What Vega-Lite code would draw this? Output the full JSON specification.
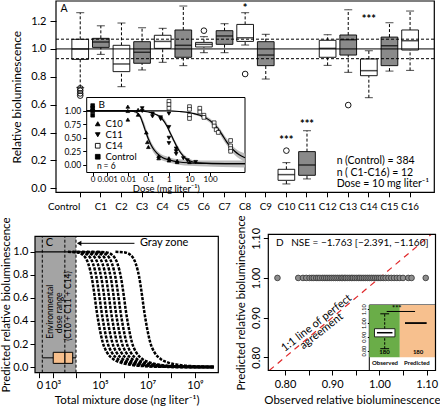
{
"$schema":"https://vega.github.io/schema/vega-lite/v6.json",
"width":440,"height":410,"autosize":{"type":"none"},"padding":0,
"config":{"font":"Lato","view":{"stroke":null},"axis":{"domain":false,"grid":false,"tickColor":"black","labelColor":"black","titleColor":"black","titleFontWeight":"normal","zindex":1},"text":{"color":"black"},"legend":{"labelColor":"black"}},
"datasets":{
"boxA":[
{"cat":"Control","wlo":0.724,"q1":0.925,"med":1.0,"q3":1.069,"whi":1.26},
{"cat":"C1","wlo":0.961,"q1":1.011,"med":1.05,"q3":1.076,"whi":1.166},
{"cat":"C2","wlo":0.729,"q1":0.837,"med":0.892,"q3":1.026,"whi":1.186},
{"cat":"C3","wlo":0.849,"q1":0.897,"med":0.976,"q3":1.052,"whi":1.152},
{"cat":"C4","wlo":0.904,"q1":1.004,"med":1.054,"q3":1.098,"whi":1.148},
{"cat":"C5","wlo":0.88,"q1":0.94,"med":1.026,"q3":1.136,"whi":1.308},
{"cat":"C6","wlo":0.973,"q1":1.014,"med":1.033,"q3":1.047,"whi":1.088},
{"cat":"C7","wlo":0.973,"q1":1.033,"med":1.093,"q3":1.131,"whi":1.181},
{"cat":"C8","wlo":1.028,"q1":1.054,"med":1.08,"q3":1.176,"whi":1.26},
{"cat":"C9","wlo":0.784,"q1":0.88,"med":0.956,"q3":1.052,"whi":1.105},
{"cat":"C10","wlo":0.031,"q1":0.057,"med":0.098,"q3":0.136,"whi":0.184},
{"cat":"C11","wlo":0.067,"q1":0.093,"med":0.167,"q3":0.263,"whi":0.413},
{"cat":"C12","wlo":0.882,"q1":0.94,"med":1.004,"q3":1.062,"whi":1.102},
{"cat":"C13","wlo":0.832,"q1":0.956,"med":1.066,"q3":1.1,"whi":1.281},
{"cat":"C14","wlo":0.65,"q1":0.808,"med":0.844,"q3":0.928,"whi":0.987},
{"cat":"C15","wlo":0.841,"q1":0.88,"med":1.023,"q3":1.085,"whi":1.188},
{"cat":"C16","wlo":0.846,"q1":0.992,"med":1.059,"q3":1.136,"whi":1.272}],
"outA":[{"cat":"Control","v":0.717},{"cat":"Control","v":0.7},{"cat":"Control","v":0.681},{"cat":"Control","v":0.665},{"cat":"C6","v":1.131},{"cat":"C8","v":0.82},{"cat":"C10","v":0.27},{"cat":"C13","v":0.597}],
"starA":[{"cat":"C8","v":1.303,"lab":"*"},{"cat":"C10","v":0.351,"lab":"***"},{"cat":"C11","v":0.466,"lab":"***"},{"cat":"C14","v":1.22,"lab":"***"}],
"curveB":[
{"series":"C10","x":-4.0,"y":1.0},{"series":"C10","x":-2.0,"y":1.0},{"series":"C10","x":-1.6,"y":0.98},{"series":"C10","x":-1.4,"y":0.9},{"series":"C10","x":-1.25,"y":0.75},{"series":"C10","x":-1.1,"y":0.58},{"series":"C10","x":-1.0,"y":0.48},{"series":"C10","x":-0.8,"y":0.32},{"series":"C10","x":-0.6,"y":0.22},{"series":"C10","x":-0.3,"y":0.13},{"series":"C10","x":0.0,"y":0.09},{"series":"C10","x":0.5,"y":0.05},{"series":"C10","x":1.0,"y":0.035},{"series":"C10","x":2.0,"y":0.025},{"series":"C10","x":3.7,"y":0.02},
{"series":"C11","x":-4.0,"y":1.0},{"series":"C11","x":-1.5,"y":1.0},{"series":"C11","x":-1.0,"y":0.98},{"series":"C11","x":-0.6,"y":0.93},{"series":"C11","x":-0.3,"y":0.84},{"series":"C11","x":-0.1,"y":0.72},{"series":"C11","x":0.1,"y":0.56},{"series":"C11","x":0.2,"y":0.48},{"series":"C11","x":0.35,"y":0.36},{"series":"C11","x":0.5,"y":0.26},{"series":"C11","x":0.7,"y":0.16},{"series":"C11","x":0.9,"y":0.09},{"series":"C11","x":1.2,"y":0.05},{"series":"C11","x":1.6,"y":0.03},{"series":"C11","x":2.5,"y":0.02},{"series":"C11","x":3.7,"y":0.02},
{"series":"C14","x":-4.0,"y":1.0},{"series":"C14","x":0.0,"y":1.0},{"series":"C14","x":0.5,"y":0.99},{"series":"C14","x":1.0,"y":0.97},{"series":"C14","x":1.5,"y":0.92},{"series":"C14","x":1.8,"y":0.87},{"series":"C14","x":2.0,"y":0.82},{"series":"C14","x":2.2,"y":0.75},{"series":"C14","x":2.4,"y":0.66},{"series":"C14","x":2.6,"y":0.55},{"series":"C14","x":2.8,"y":0.43},{"series":"C14","x":3.0,"y":0.33},{"series":"C14","x":3.2,"y":0.25},{"series":"C14","x":3.4,"y":0.19},{"series":"C14","x":3.7,"y":0.13}],
"bandB":[
{"series":"C10","x":-1.7,"lo":0.97,"hi":1.0},{"series":"C10","x":-1.4,"lo":0.86,"hi":0.94},{"series":"C10","x":-1.2,"lo":0.64,"hi":0.78},{"series":"C10","x":-1.0,"lo":0.42,"hi":0.55},{"series":"C10","x":-0.8,"lo":0.26,"hi":0.38},{"series":"C10","x":-0.5,"lo":0.12,"hi":0.23},{"series":"C10","x":0.0,"lo":0.04,"hi":0.14},{"series":"C10","x":0.5,"lo":0.0,"hi":0.1},{"series":"C10","x":1.5,"lo":-0.03,"hi":0.08},{"series":"C10","x":3.7,"lo":-0.05,"hi":0.08},
{"series":"C11","x":-0.6,"lo":0.91,"hi":0.95},{"series":"C11","x":-0.2,"lo":0.76,"hi":0.84},{"series":"C11","x":0.2,"lo":0.44,"hi":0.52},{"series":"C11","x":0.6,"lo":0.18,"hi":0.25},{"series":"C11","x":1.0,"lo":0.05,"hi":0.11},{"series":"C11","x":1.6,"lo":0.01,"hi":0.05},
{"series":"C14","x":1.2,"lo":0.93,"hi":0.97},{"series":"C14","x":1.6,"lo":0.88,"hi":0.93},{"series":"C14","x":2.0,"lo":0.78,"hi":0.86},{"series":"C14","x":2.4,"lo":0.61,"hi":0.71},{"series":"C14","x":2.8,"lo":0.37,"hi":0.49},{"series":"C14","x":3.2,"lo":0.18,"hi":0.31},{"series":"C14","x":3.7,"lo":0.05,"hi":0.21}],
"ptsB":[
{"series":"Control","x":-3.71,"y":1.1},{"series":"Control","x":-3.71,"y":1.05},{"series":"Control","x":-3.71,"y":1.0},{"series":"Control","x":-3.71,"y":0.92},
{"series":"C10","x":-2.0,"y":1.08},{"series":"C10","x":-2.0,"y":1.0},{"series":"C10","x":-2.0,"y":0.84},{"series":"C10","x":-1.5,"y":1.02},{"series":"C10","x":-1.5,"y":0.93},{"series":"C10","x":-1.1,"y":0.6},{"series":"C10","x":-1.05,"y":0.42},{"series":"C10","x":-1.0,"y":0.33},{"series":"C10","x":-0.5,"y":0.16},{"series":"C10","x":-0.5,"y":0.12},{"series":"C10","x":0.0,"y":0.12},{"series":"C10","x":0.0,"y":0.08},{"series":"C10","x":0.4,"y":0.07},{"series":"C10","x":0.4,"y":0.05},{"series":"C10","x":1.0,"y":0.05},
{"series":"C11","x":-1.3,"y":1.05},{"series":"C11","x":-1.3,"y":1.0},{"series":"C11","x":-0.8,"y":0.95},{"series":"C11","x":-0.8,"y":0.9},{"series":"C11","x":-0.4,"y":0.88},{"series":"C11","x":-0.4,"y":0.85},{"series":"C11","x":0.0,"y":0.95},{"series":"C11","x":0.0,"y":0.7},{"series":"C11","x":0.0,"y":0.5},{"series":"C11","x":0.0,"y":0.4},{"series":"C11","x":0.35,"y":0.3},{"series":"C11","x":0.35,"y":0.25},{"series":"C11","x":0.35,"y":0.2},{"series":"C11","x":0.7,"y":0.12},{"series":"C11","x":0.9,"y":0.08},{"series":"C11","x":1.3,"y":0.05},
{"series":"C14","x":0.0,"y":1.18},{"series":"C14","x":0.0,"y":1.12},{"series":"C14","x":0.0,"y":1.05},{"series":"C14","x":1.0,"y":1.08},{"series":"C14","x":1.0,"y":1.03},{"series":"C14","x":1.0,"y":0.92},{"series":"C14","x":1.0,"y":0.86},{"series":"C14","x":1.5,"y":1.05},{"series":"C14","x":1.5,"y":0.98},{"series":"C14","x":1.7,"y":0.92},{"series":"C14","x":1.7,"y":0.88},{"series":"C14","x":2.2,"y":0.78},{"series":"C14","x":2.2,"y":0.72},{"series":"C14","x":2.3,"y":0.65},{"series":"C14","x":2.4,"y":0.6},{"series":"C14","x":3.0,"y":0.45},{"series":"C14","x":3.0,"y":0.35},{"series":"C14","x":3.0,"y":0.3},{"series":"C14","x":3.0,"y":0.25}],
"curveC":[
{"c":1,"x":3.65,"y":1.0},{"c":1,"x":4.05,"y":0.995},{"c":1,"x":4.3,"y":0.97},{"c":1,"x":4.5,"y":0.9},{"c":1,"x":4.65,"y":0.78},{"c":1,"x":4.75,"y":0.65},{"c":1,"x":4.85,"y":0.5},{"c":1,"x":4.97,"y":0.35},{"c":1,"x":5.12,"y":0.21},{"c":1,"x":5.3,"y":0.125},{"c":1,"x":5.55,"y":0.07},{"c":1,"x":5.85,"y":0.04},{"c":1,"x":6.35,"y":0.018},{"c":1,"x":7.05,"y":0.006},{"c":1,"x":7.85,"y":0.0015},{"c":1,"x":9.8,"y":0.0},
{"c":2,"x":3.85,"y":1.0},{"c":2,"x":4.25,"y":0.995},{"c":2,"x":4.5,"y":0.97},{"c":2,"x":4.7,"y":0.9},{"c":2,"x":4.85,"y":0.78},{"c":2,"x":4.95,"y":0.65},{"c":2,"x":5.05,"y":0.5},{"c":2,"x":5.17,"y":0.35},{"c":2,"x":5.32,"y":0.21},{"c":2,"x":5.5,"y":0.125},{"c":2,"x":5.75,"y":0.07},{"c":2,"x":6.05,"y":0.04},{"c":2,"x":6.55,"y":0.018},{"c":2,"x":7.25,"y":0.006},{"c":2,"x":8.05,"y":0.0015},{"c":2,"x":9.8,"y":0.0},
{"c":3,"x":4.05,"y":1.0},{"c":3,"x":4.45,"y":0.995},{"c":3,"x":4.7,"y":0.97},{"c":3,"x":4.9,"y":0.9},{"c":3,"x":5.05,"y":0.78},{"c":3,"x":5.15,"y":0.65},{"c":3,"x":5.25,"y":0.5},{"c":3,"x":5.37,"y":0.35},{"c":3,"x":5.52,"y":0.21},{"c":3,"x":5.7,"y":0.125},{"c":3,"x":5.95,"y":0.07},{"c":3,"x":6.25,"y":0.04},{"c":3,"x":6.75,"y":0.018},{"c":3,"x":7.45,"y":0.006},{"c":3,"x":8.25,"y":0.0015},{"c":3,"x":9.8,"y":0.0},
{"c":4,"x":4.25,"y":1.0},{"c":4,"x":4.65,"y":0.995},{"c":4,"x":4.9,"y":0.97},{"c":4,"x":5.1,"y":0.9},{"c":4,"x":5.25,"y":0.78},{"c":4,"x":5.35,"y":0.65},{"c":4,"x":5.45,"y":0.5},{"c":4,"x":5.57,"y":0.35},{"c":4,"x":5.72,"y":0.21},{"c":4,"x":5.9,"y":0.125},{"c":4,"x":6.15,"y":0.07},{"c":4,"x":6.45,"y":0.04},{"c":4,"x":6.95,"y":0.018},{"c":4,"x":7.65,"y":0.006},{"c":4,"x":8.45,"y":0.0015},{"c":4,"x":9.8,"y":0.0},
{"c":5,"x":4.45,"y":1.0},{"c":5,"x":4.85,"y":0.995},{"c":5,"x":5.1,"y":0.97},{"c":5,"x":5.3,"y":0.9},{"c":5,"x":5.45,"y":0.78},{"c":5,"x":5.55,"y":0.65},{"c":5,"x":5.65,"y":0.5},{"c":5,"x":5.77,"y":0.35},{"c":5,"x":5.92,"y":0.21},{"c":5,"x":6.1,"y":0.125},{"c":5,"x":6.35,"y":0.07},{"c":5,"x":6.65,"y":0.04},{"c":5,"x":7.15,"y":0.018},{"c":5,"x":7.85,"y":0.006},{"c":5,"x":8.65,"y":0.0015},{"c":5,"x":9.8,"y":0.0},
{"c":6,"x":4.65,"y":1.0},{"c":6,"x":5.05,"y":0.995},{"c":6,"x":5.3,"y":0.97},{"c":6,"x":5.5,"y":0.9},{"c":6,"x":5.65,"y":0.78},{"c":6,"x":5.75,"y":0.65},{"c":6,"x":5.85,"y":0.5},{"c":6,"x":5.97,"y":0.35},{"c":6,"x":6.12,"y":0.21},{"c":6,"x":6.3,"y":0.125},{"c":6,"x":6.55,"y":0.07},{"c":6,"x":6.85,"y":0.04},{"c":6,"x":7.35,"y":0.018},{"c":6,"x":8.05,"y":0.006},{"c":6,"x":8.85,"y":0.0015},{"c":6,"x":9.8,"y":0.0},
{"c":7,"x":4.88,"y":1.0},{"c":7,"x":5.28,"y":0.995},{"c":7,"x":5.53,"y":0.97},{"c":7,"x":5.73,"y":0.9},{"c":7,"x":5.88,"y":0.78},{"c":7,"x":5.98,"y":0.65},{"c":7,"x":6.08,"y":0.5},{"c":7,"x":6.2,"y":0.35},{"c":7,"x":6.35,"y":0.21},{"c":7,"x":6.53,"y":0.125},{"c":7,"x":6.78,"y":0.07},{"c":7,"x":7.08,"y":0.04},{"c":7,"x":7.58,"y":0.018},{"c":7,"x":8.28,"y":0.006},{"c":7,"x":9.08,"y":0.0015},{"c":7,"x":9.8,"y":0.0},
{"c":8,"x":5.65,"y":1.0},{"c":8,"x":6.05,"y":0.995},{"c":8,"x":6.3,"y":0.97},{"c":8,"x":6.5,"y":0.9},{"c":8,"x":6.65,"y":0.78},{"c":8,"x":6.75,"y":0.65},{"c":8,"x":6.85,"y":0.5},{"c":8,"x":6.97,"y":0.35},{"c":8,"x":7.12,"y":0.21},{"c":8,"x":7.3,"y":0.125},{"c":8,"x":7.55,"y":0.07},{"c":8,"x":7.85,"y":0.04},{"c":8,"x":8.35,"y":0.018},{"c":8,"x":9.05,"y":0.006},{"c":8,"x":9.8,"y":0.0}],
"envC":[{"min":2.57,"q1":3.03,"med":3.52,"q3":3.85,"max":3.99}],
"ptsD":[{"obs":0.784},{"obs":0.828},{"obs":0.838},{"obs":0.845},{"obs":0.852},{"obs":0.857},{"obs":0.861},{"obs":0.866},{"obs":0.87},{"obs":0.874},{"obs":0.879},{"obs":0.883},{"obs":0.887},{"obs":0.891},{"obs":0.895},{"obs":0.899},{"obs":0.903},{"obs":0.907},{"obs":0.911},{"obs":0.915},{"obs":0.919},{"obs":0.922},{"obs":0.926},{"obs":0.929},{"obs":0.933},{"obs":0.937},{"obs":0.941},{"obs":0.944},{"obs":0.948},{"obs":0.952},{"obs":0.956},{"obs":0.959},{"obs":0.963},{"obs":0.967},{"obs":0.971},{"obs":0.975},{"obs":0.979},{"obs":0.983},{"obs":0.987},{"obs":0.991},{"obs":0.995},{"obs":0.999},{"obs":1.003},{"obs":1.008},{"obs":1.013},{"obs":1.019},{"obs":1.025},{"obs":1.031},{"obs":1.037},{"obs":1.043},{"obs":1.05},{"obs":1.061},{"obs":1.068},{"obs":1.098}],
"boxDi":[{"min":0.814,"q1":0.9,"med":0.93,"q3":0.959,"max":1.067}]
},
"layer":[
{"data":{"name":"boxA"},"mark":{"type":"rule","strokeDash":[3,2],"color":"black","strokeWidth":1},
 "encoding":{"x":{"field":"cat","type":"nominal","sort":null,"scale":{"type":"band","domain":["Control","C1","C2","C3","C4","C5","C6","C7","C8","C9","C10","C11","C12","C13","C14","C15","C16"],"range":[56,434.3],"paddingInner":0.19,"paddingOuter":0.77},"axis":null},
 "y":{"field":"q3","type":"quantitative","scale":{"domain":[-0.029,1.344],"range":[192.3,1],"nice":false,"zero":false},"axis":null},"y2":{"field":"whi"}}},
{"data":{"name":"boxA"},"mark":{"type":"rule","strokeDash":[3,2],"color":"black","strokeWidth":1},
 "encoding":{"x":{"field":"cat","type":"nominal","sort":null,"scale":{"type":"band","domain":["Control","C1","C2","C3","C4","C5","C6","C7","C8","C9","C10","C11","C12","C13","C14","C15","C16"],"range":[56,434.3],"paddingInner":0.19,"paddingOuter":0.77},"axis":null},
 "y":{"field":"wlo","type":"quantitative","scale":{"domain":[-0.029,1.344],"range":[192.3,1],"nice":false,"zero":false},"axis":null},"y2":{"field":"q1"}}},
{"data":{"name":"boxA"},"mark":{"type":"tick","orient":"horizontal","size":8,"thickness":1,"color":"black"},
 "encoding":{"x":{"field":"cat","type":"nominal","sort":null,"scale":{"type":"band","domain":["Control","C1","C2","C3","C4","C5","C6","C7","C8","C9","C10","C11","C12","C13","C14","C15","C16"],"range":[56,434.3],"paddingInner":0.19,"paddingOuter":0.77},"axis":null},
 "y":{"field":"whi","type":"quantitative","scale":{"domain":[-0.029,1.344],"range":[192.3,1],"nice":false,"zero":false},"axis":null}}},
{"data":{"name":"boxA"},"mark":{"type":"tick","orient":"horizontal","size":8,"thickness":1,"color":"black"},
 "encoding":{"x":{"field":"cat","type":"nominal","sort":null,"scale":{"type":"band","domain":["Control","C1","C2","C3","C4","C5","C6","C7","C8","C9","C10","C11","C12","C13","C14","C15","C16"],"range":[56,434.3],"paddingInner":0.19,"paddingOuter":0.77},"axis":null},
 "y":{"field":"wlo","type":"quantitative","scale":{"domain":[-0.029,1.344],"range":[192.3,1],"nice":false,"zero":false},"axis":null}}},
{"data":{"name":"boxA"},"mark":{"type":"bar","stroke":"black","strokeWidth":0.9},
 "encoding":{"x":{"field":"cat","type":"nominal","sort":null,"scale":{"type":"band","domain":["Control","C1","C2","C3","C4","C5","C6","C7","C8","C9","C10","C11","C12","C13","C14","C15","C16"],"range":[56,434.3],"paddingInner":0.19,"paddingOuter":0.77},
   "axis":{"orient":"bottom","offset":-217.7,"title":null,"labelAngle":0,"labelFontSize":9.8,"labelPadding":5,"tickSize":4.5,"labelOverlap":false,"labelBound":false,"labelAlign":{"condition":{"test":"datum.value == 'Control'","value":"right"},"value":"center"}}},
 "y":{"field":"q1","type":"quantitative","scale":{"domain":[-0.029,1.344],"range":[192.3,1],"nice":false,"zero":false},
   "axis":{"orient":"left","offset":-56,"values":[0,0.2,0.4,0.6,0.8,1,1.2],"format":".1f","title":"Relative bioluminescence","titleFontSize":12,"labelFontSize":11,"tickSize":6,"labelPadding":4,"titlePadding":7}},
 "y2":{"field":"q3"},
 "fill":{"field":"cat","type":"nominal","scale":{"domain":["Control","C1","C2","C3","C4","C5","C6","C7","C8","C9","C10","C11","C12","C13","C14","C15","C16"],"range":["white","#8a8a8a","white","#8a8a8a","white","#8a8a8a","white","#8a8a8a","white","#8a8a8a","white","#8a8a8a","white","#8a8a8a","white","#8a8a8a","white"]},"legend":null}}},
{"data":{"name":"boxA"},"mark":{"type":"tick","orient":"horizontal","size":16.7,"thickness":1.5,"color":"black"},
 "encoding":{"x":{"field":"cat","type":"nominal","sort":null,"scale":{"type":"band","domain":["Control","C1","C2","C3","C4","C5","C6","C7","C8","C9","C10","C11","C12","C13","C14","C15","C16"],"range":[56,434.3],"paddingInner":0.19,"paddingOuter":0.77},"axis":null},
 "y":{"field":"med","type":"quantitative","scale":{"domain":[-0.029,1.344],"range":[192.3,1],"nice":false,"zero":false},"axis":null}}},
{"data":{"name":"outA"},"mark":{"type":"point","shape":"circle","filled":false,"color":"black","size":32,"strokeWidth":0.9,"opacity":1},
 "encoding":{"x":{"field":"cat","type":"nominal","sort":null,"scale":{"type":"band","domain":["Control","C1","C2","C3","C4","C5","C6","C7","C8","C9","C10","C11","C12","C13","C14","C15","C16"],"range":[56,434.3],"paddingInner":0.19,"paddingOuter":0.77},"axis":null},
 "y":{"field":"v","type":"quantitative","scale":{"domain":[-0.029,1.344],"range":[192.3,1],"nice":false,"zero":false},"axis":null}}},
{"data":{"name":"starA"},"mark":{"type":"text","fontSize":11,"fontWeight":"bold","baseline":"middle","dy":2},
 "encoding":{"x":{"field":"cat","type":"nominal","sort":null,"scale":{"type":"band","domain":["Control","C1","C2","C3","C4","C5","C6","C7","C8","C9","C10","C11","C12","C13","C14","C15","C16"],"range":[56,434.3],"paddingInner":0.19,"paddingOuter":0.77},"axis":null},
 "y":{"field":"v","type":"quantitative","scale":{"domain":[-0.029,1.344],"range":[192.3,1],"nice":false,"zero":false},"axis":null},"text":{"field":"lab"}}},
{"data":{"values":[{}]},"mark":{"type":"rule","color":"black","strokeWidth":1},
 "encoding":{"x":{"datum":0,"type":"quantitative","scale":{"domain":[0,1],"range":[56,434.3],"nice":false,"zero":false},"axis":null},"x2":{"datum":1},
 "y":{"datum":1.0,"type":"quantitative","scale":{"domain":[-0.029,1.344],"range":[192.3,1],"nice":false,"zero":false},"axis":null}}},
{"data":{"values":[{}]},"mark":{"type":"rule","color":"black","strokeWidth":1,"strokeDash":[3,2]},
 "encoding":{"x":{"datum":0,"type":"quantitative","scale":{"domain":[0,1],"range":[56,434.3],"nice":false,"zero":false},"axis":null},"x2":{"datum":1},
 "y":{"datum":1.07,"type":"quantitative","scale":{"domain":[-0.029,1.344],"range":[192.3,1],"nice":false,"zero":false},"axis":null}}},
{"data":{"values":[{}]},"mark":{"type":"rule","color":"black","strokeWidth":1,"strokeDash":[3,2]},
 "encoding":{"x":{"datum":0,"type":"quantitative","scale":{"domain":[0,1],"range":[56,434.3],"nice":false,"zero":false},"axis":null},"x2":{"datum":1},
 "y":{"datum":0.93,"type":"quantitative","scale":{"domain":[-0.029,1.344],"range":[192.3,1],"nice":false,"zero":false},"axis":null}}},
{"data":{"values":[{}]},"mark":{"type":"rect","filled":false,"color":"black","strokeWidth":1.2},
 "encoding":{"x":{"datum":0,"type":"quantitative","scale":{"domain":[0,1],"range":[56,434.3],"nice":false,"zero":false},"axis":null},"x2":{"datum":1},
 "y":{"datum":-0.029,"type":"quantitative","scale":{"domain":[-0.029,1.344],"range":[192.3,1],"nice":false,"zero":false},"axis":null},"y2":{"datum":1.344}}},
{"data":{"values":[{"t":"A","x":0.012,"y":1.29,"w":"bold","s":"normal"},{"t":"n","x":0.742,"y":0.196,"w":"normal","s":"italic"},{"t":"(Control) = 384","x":0.764,"y":0.196,"w":"normal","s":"normal"},{"t":"n","x":0.742,"y":0.112,"w":"normal","s":"italic"},{"t":"( C1-C16) = 12","x":0.764,"y":0.112,"w":"normal","s":"normal"},{"t":"Dose = 10 mg liter⁻¹","x":0.742,"y":0.031,"w":"normal","s":"normal"}]},
 "mark":{"type":"text","fontSize":10.5,"align":"left","baseline":"middle"},
 "encoding":{"x":{"field":"x","type":"quantitative","scale":{"domain":[0,1],"range":[56,434.3],"nice":false,"zero":false},"axis":null},
 "y":{"field":"y","type":"quantitative","scale":{"domain":[-0.029,1.344],"range":[192.3,1],"nice":false,"zero":false},"axis":null},
 "text":{"field":"t"},"fontWeight":{"field":"w","type":"nominal","scale":null},"fontStyle":{"field":"s","type":"nominal","scale":null}}},

{"data":{"values":[{}]},"mark":{"type":"rect","fill":"white","stroke":"black","strokeWidth":1},
 "encoding":{"x":{"datum":-4.0,"type":"quantitative","scale":{"domain":[-4.0,3.7],"range":[86.7,245],"nice":false,"zero":false},"axis":null},"x2":{"datum":3.7},
 "y":{"datum":-0.145,"type":"quantitative","scale":{"domain":[-0.145,1.25],"range":[172.5,97.5],"nice":false,"zero":false},"axis":null},"y2":{"datum":1.25}}},
{"data":{"name":"bandB"},"mark":{"type":"area","color":"#b0b0b0","opacity":0.85,"interpolate":"monotone"},
 "encoding":{"x":{"field":"x","type":"quantitative","scale":{"domain":[-4.0,3.7],"range":[86.7,245],"nice":false,"zero":false},"axis":null},
 "y":{"field":"lo","type":"quantitative","scale":{"domain":[-0.145,1.25],"range":[172.5,97.5],"nice":false,"zero":false},"axis":null},"y2":{"field":"hi"},"detail":{"field":"series"}}},
{"data":{"name":"curveB"},"mark":{"type":"line","color":"black","strokeWidth":1.2,"interpolate":"monotone"},
 "encoding":{"x":{"field":"x","type":"quantitative","scale":{"domain":[-4.0,3.7],"range":[86.7,245],"nice":false,"zero":false},"axis":null},
 "y":{"field":"y","type":"quantitative","scale":{"domain":[-0.145,1.25],"range":[172.5,97.5],"nice":false,"zero":false},"axis":null},"detail":{"field":"series"}}},
{"data":{"name":"ptsB"},"mark":{"type":"point","size":14,"strokeWidth":0.7,"opacity":1},
 "encoding":{"x":{"field":"x","type":"quantitative","scale":{"domain":[-4.0,3.7],"range":[86.7,245],"nice":false,"zero":false},
   "axis":{"orient":"bottom","offset":-237.5,"values":[-3.71,-3,-2,-1,0,1,2],"labelExpr":"datum.value < -3.5 ? '0' : datum.value == -3 ? '0.001' : datum.value == -2 ? '0.01' : datum.value == -1 ? '0.1' : datum.value == 0 ? '1' : datum.value == 1 ? '10' : '100'","title":"Dose (mg liter⁻¹)","labelFontSize":8,"titleFontSize":9.5,"tickSize":3,"labelPadding":0,"titlePadding":0,"labelOverlap":false,"labelFlush":false}},
 "y":{"field":"y","type":"quantitative","scale":{"domain":[-0.145,1.25],"range":[172.5,97.5],"nice":false,"zero":false},
   "axis":{"orient":"left","offset":-86.7,"values":[0,0.25,0.5,0.75,1],"format":".2f","title":null,"labelFontSize":8.5,"tickSize":4,"labelPadding":2}},
 "shape":{"field":"series","type":"nominal","scale":{"domain":["C10","C11","C14","Control"],"range":["triangle-up","triangle-down","square","square"]},
   "legend":{"orient":"none","legendX":93,"legendY":119,"title":null,"labelFontSize":9.5,"symbolSize":22,"rowPadding":0,"symbolStrokeColor":"black","symbolStrokeWidth":0.9,"labelOffset":3,"padding":0}},
 "fill":{"field":"series","type":"nominal","scale":{"domain":["C10","C11","C14","Control"],"range":["black","black","white","black"]},
   "legend":{"orient":"none","legendX":93,"legendY":119,"title":null,"labelFontSize":9.5,"symbolSize":22,"rowPadding":0,"symbolStrokeColor":"black","symbolStrokeWidth":0.9,"labelOffset":3,"padding":0}},
 "stroke":{"field":"series","type":"nominal","scale":{"domain":["C10","C11","C14","Control"],"range":["black","black","black","black"]},
   "legend":{"orient":"none","legendX":93,"legendY":119,"title":null,"labelFontSize":9.5,"symbolSize":22,"rowPadding":0,"symbolStrokeColor":"black","symbolStrokeWidth":0.9,"labelOffset":3,"padding":0}}}},
{"data":{"values":[{"t":"B","x":-3.42,"y":1.11,"w":"bold","s":"normal","f":10},{"t":"n","x":-3.5,"y":-0.02,"w":"normal","s":"italic","f":8.5},{"t":"= 6","x":-3.18,"y":-0.02,"w":"normal","s":"normal","f":8.5}]},
 "mark":{"type":"text","align":"left","baseline":"middle"},
 "encoding":{"x":{"field":"x","type":"quantitative","scale":{"domain":[-4.0,3.7],"range":[86.7,245],"nice":false,"zero":false},"axis":null},
 "y":{"field":"y","type":"quantitative","scale":{"domain":[-0.145,1.25],"range":[172.5,97.5],"nice":false,"zero":false},"axis":null},
 "text":{"field":"t"},"fontWeight":{"field":"w","type":"nominal","scale":null},"fontStyle":{"field":"s","type":"nominal","scale":null},"size":{"field":"f","type":"quantitative","scale":null}}},

{"data":{"values":[{}]},"mark":{"type":"rect","color":"#a4a4a4"},
 "encoding":{"x":{"datum":2.263,"type":"quantitative","scale":{"domain":[2.263,9.98],"range":[35,218.3],"nice":false,"zero":false},"axis":null},"x2":{"datum":3.99},
 "y":{"datum":-0.049,"type":"quantitative","scale":{"domain":[-0.049,1.135],"range":[372.7,236.3],"nice":false,"zero":false},"axis":null},"y2":{"datum":1.135}}},
{"data":{"name":"envC"},"mark":{"type":"rule","color":"black","strokeWidth":1,"strokeDash":[3,2]},
 "encoding":{"x":{"field":"min","type":"quantitative","scale":{"domain":[2.263,9.98],"range":[35,218.3],"nice":false,"zero":false},"axis":null},
 "y":{"datum":-0.049,"type":"quantitative","scale":{"domain":[-0.049,1.135],"range":[372.7,236.3],"nice":false,"zero":false},"axis":null},"y2":{"datum":1.135}}},
{"data":{"name":"envC"},"mark":{"type":"rule","color":"black","strokeWidth":1,"strokeDash":[3,2]},
 "encoding":{"x":{"field":"med","type":"quantitative","scale":{"domain":[2.263,9.98],"range":[35,218.3],"nice":false,"zero":false},"axis":null},
 "y":{"datum":-0.049,"type":"quantitative","scale":{"domain":[-0.049,1.135],"range":[372.7,236.3],"nice":false,"zero":false},"axis":null},"y2":{"datum":1.135}}},
{"data":{"name":"envC"},"mark":{"type":"rule","color":"black","strokeWidth":1,"strokeDash":[3,2]},
 "encoding":{"x":{"field":"max","type":"quantitative","scale":{"domain":[2.263,9.98],"range":[35,218.3],"nice":false,"zero":false},"axis":null},
 "y":{"datum":-0.049,"type":"quantitative","scale":{"domain":[-0.049,1.135],"range":[372.7,236.3],"nice":false,"zero":false},"axis":null},"y2":{"datum":1.135}}},
{"data":{"name":"curveC"},"mark":{"type":"line","color":"black","strokeWidth":2.5,"strokeDash":[3,1.3],"interpolate":"monotone"},
 "encoding":{"x":{"field":"x","type":"quantitative","scale":{"domain":[2.263,9.98],"range":[35,218.3],"nice":false,"zero":false},
   "axis":{"orient":"bottom","offset":-37.3,"values":[2.45,3,4,5,6,7,8,9],"labelExpr":"datum.value < 2.9 ? '0' : datum.value == 3 ? '10³' : datum.value == 5 ? '10⁵' : datum.value == 7 ? '10⁷' : datum.value == 9 ? '10⁹' : ''","title":"Total mixture dose (ng liter⁻¹)","labelFontSize":11,"titleFontSize":11.5,"tickSize":5,"labelPadding":2,"titlePadding":4,"labelFlush":false,"labelOverlap":false}},
 "y":{"field":"y","type":"quantitative","scale":{"domain":[-0.049,1.135],"range":[372.7,236.3],"nice":false,"zero":false},
   "axis":{"orient":"left","offset":-35,"values":[0,0.2,0.4,0.6,0.8,1],"format":".1f","title":"Predicted relative bioluminescence","labelFontSize":11,"titleFontSize":11.5,"tickSize":5,"labelPadding":2,"titlePadding":1}},
 "detail":{"field":"c"}}},
{"data":{"values":[{}]},"mark":{"type":"rule","color":"black","strokeWidth":1.3},
 "encoding":{"x":{"datum":2.263,"type":"quantitative","scale":{"domain":[2.263,9.98],"range":[35,218.3],"nice":false,"zero":false},"axis":null},"x2":{"datum":4.6},
 "y":{"datum":1.0,"type":"quantitative","scale":{"domain":[-0.049,1.135],"range":[372.7,236.3],"nice":false,"zero":false},"axis":null}}},
{"data":{"name":"envC"},"mark":{"type":"rule","color":"black","strokeWidth":1},
 "encoding":{"x":{"field":"min","type":"quantitative","scale":{"domain":[2.263,9.98],"range":[35,218.3],"nice":false,"zero":false},"axis":null},"x2":{"field":"max"},
 "y":{"datum":0.08,"type":"quantitative","scale":{"domain":[-0.049,1.135],"range":[372.7,236.3],"nice":false,"zero":false},"axis":null}}},
{"data":{"name":"envC"},"mark":{"type":"rect","fill":"#f7bf8c","stroke":"black","strokeWidth":1},
 "encoding":{"x":{"field":"q1","type":"quantitative","scale":{"domain":[2.263,9.98],"range":[35,218.3],"nice":false,"zero":false},"axis":null},"x2":{"field":"q3"},
 "y":{"datum":0.032,"type":"quantitative","scale":{"domain":[-0.049,1.135],"range":[372.7,236.3],"nice":false,"zero":false},"axis":null},"y2":{"datum":0.128}}},
{"data":{"name":"envC"},"mark":{"type":"rule","color":"black","strokeWidth":1.3},
 "encoding":{"x":{"field":"med","type":"quantitative","scale":{"domain":[2.263,9.98],"range":[35,218.3],"nice":false,"zero":false},"axis":null},
 "y":{"datum":0.032,"type":"quantitative","scale":{"domain":[-0.049,1.135],"range":[372.7,236.3],"nice":false,"zero":false},"axis":null},"y2":{"datum":0.128}}},
{"data":{"values":[{"t":"Environmental","x":2.895,"y":0.48},{"t":"dose range","x":3.27,"y":0.47},{"t":"(C10 + C11 + C14)","x":3.665,"y":0.53}]},
 "mark":{"type":"text","fontSize":8.5,"angle":270,"align":"center","baseline":"middle"},
 "encoding":{"x":{"field":"x","type":"quantitative","scale":{"domain":[2.263,9.98],"range":[35,218.3],"nice":false,"zero":false},"axis":null},
 "y":{"field":"y","type":"quantitative","scale":{"domain":[-0.049,1.135],"range":[372.7,236.3],"nice":false,"zero":false},"axis":null},"text":{"field":"t"}}},
{"data":{"values":[{"t":"C","x":2.72,"y":1.074,"w":"bold"},{"t":"Gray zone","x":6.68,"y":1.074,"w":"normal"}]},
 "mark":{"type":"text","fontSize":11,"align":"left","baseline":"middle"},
 "encoding":{"x":{"field":"x","type":"quantitative","scale":{"domain":[2.263,9.98],"range":[35,218.3],"nice":false,"zero":false},"axis":null},
 "y":{"field":"y","type":"quantitative","scale":{"domain":[-0.049,1.135],"range":[372.7,236.3],"nice":false,"zero":false},"axis":null},"text":{"field":"t"},"fontWeight":{"field":"w","type":"nominal","scale":null}}},
{"data":{"values":[{}]},"mark":{"type":"rule","color":"black","strokeWidth":1},
 "encoding":{"x":{"datum":4.1,"type":"quantitative","scale":{"domain":[2.263,9.98],"range":[35,218.3],"nice":false,"zero":false},"axis":null},"x2":{"datum":6.45},
 "y":{"datum":1.074,"type":"quantitative","scale":{"domain":[-0.049,1.135],"range":[372.7,236.3],"nice":false,"zero":false},"axis":null}}},
{"data":{"values":[{}]},"mark":{"type":"point","shape":"triangle-left","filled":true,"color":"black","size":28,"opacity":1},
 "encoding":{"x":{"datum":4.12,"type":"quantitative","scale":{"domain":[2.263,9.98],"range":[35,218.3],"nice":false,"zero":false},"axis":null},
 "y":{"datum":1.074,"type":"quantitative","scale":{"domain":[-0.049,1.135],"range":[372.7,236.3],"nice":false,"zero":false},"axis":null}}},
{"data":{"values":[{}]},"mark":{"type":"rect","filled":false,"color":"black","strokeWidth":1.2},
 "encoding":{"x":{"datum":2.263,"type":"quantitative","scale":{"domain":[2.263,9.98],"range":[35,218.3],"nice":false,"zero":false},"axis":null},"x2":{"datum":9.98},
 "y":{"datum":-0.049,"type":"quantitative","scale":{"domain":[-0.049,1.135],"range":[372.7,236.3],"nice":false,"zero":false},"axis":null},"y2":{"datum":1.135}}},

{"data":{"values":[{}]},"mark":{"type":"rule","color":"#e0282a","strokeWidth":1.2,"strokeDash":[6,5]},
 "encoding":{"x":{"datum":0.7666,"type":"quantitative","scale":{"domain":[0.7646,1.1187],"range":[268.3,435.5],"nice":false,"zero":false},"axis":null},"x2":{"datum":1.11},
 "y":{"datum":0.7666,"type":"quantitative","scale":{"domain":[0.7666,1.11],"range":[370.5,234.3],"nice":false,"zero":false},"axis":null},"y2":{"datum":1.11}}},
{"data":{"name":"ptsD"},"mark":{"type":"point","shape":"circle","filled":true,"fill":"#8e8e8e","stroke":"#333333","strokeWidth":0.8,"size":32,"opacity":1},
 "encoding":{"x":{"field":"obs","type":"quantitative","scale":{"domain":[0.7646,1.1187],"range":[268.3,435.5],"nice":false,"zero":false},
   "axis":{"orient":"bottom","offset":-39.5,"values":[0.8,0.85,0.9,0.95,1,1.05,1.1],"labelExpr":"indexof(['0.80','0.90','1.00','1.10'], format(datum.value,'.2f')) >= 0 ? format(datum.value,'.2f') : ''","title":"Observed relative bioluminescence","labelFontSize":11,"titleFontSize":11.5,"tickSize":4.5,"labelPadding":3,"titlePadding":5,"labelFlush":false,"labelOverlap":false}},
 "y":{"datum":1.0,"type":"quantitative","scale":{"domain":[0.7666,1.11],"range":[370.5,234.3],"nice":false,"zero":false},
   "axis":{"orient":"left","offset":-268.3,"values":[0.8,0.9,1,1.1],"format":".2f","labelAngle":270,"title":"Predicted relative bioluminescence","labelFontSize":11,"titleFontSize":11.5,"tickSize":5,"labelPadding":2,"titlePadding":4}}}},
{"data":{"values":[{}]},"mark":{"type":"rect","fill":"white","stroke":"black","strokeWidth":1},
 "encoding":{"x":{"datum":0,"type":"quantitative","scale":{"domain":[0,2.17],"range":[369.3,435.5],"nice":false,"zero":false},"axis":null},"x2":{"datum":2.17},
 "y":{"datum":0.656,"type":"quantitative","scale":{"domain":[0.656,1.131],"range":[370.5,305],"nice":false,"zero":false},"axis":null},"y2":{"datum":1.131}}},
{"data":{"values":[{}]},"mark":{"type":"rect","color":"#6aad48"},
 "encoding":{"x":{"datum":0,"type":"quantitative","scale":{"domain":[0,2.17],"range":[369.3,435.5],"nice":false,"zero":false},"axis":null},"x2":{"datum":1},
 "y":{"datum":0.752,"type":"quantitative","scale":{"domain":[0.656,1.131],"range":[370.5,305],"nice":false,"zero":false},"axis":null},"y2":{"datum":1.131}}},
{"data":{"values":[{}]},"mark":{"type":"rect","color":"#f7c08e"},
 "encoding":{"x":{"datum":1,"type":"quantitative","scale":{"domain":[0,2.17],"range":[369.3,435.5],"nice":false,"zero":false},"axis":null},"x2":{"datum":2.17},
 "y":{"datum":0.752,"type":"quantitative","scale":{"domain":[0.656,1.131],"range":[370.5,305],"nice":false,"zero":false},
   "axis":{"orient":"left","offset":-369.3,"values":[0.8,0.9,1,1.1],"format":".2f","labelAngle":270,"labelFontSize":5.5,"tickSize":2,"labelPadding":1,"title":null}},"y2":{"datum":1.131}}},
{"data":{"name":"boxDi"},"mark":{"type":"rule","color":"black","strokeWidth":1,"strokeDash":[2.5,1.5]},
 "encoding":{"x":{"datum":0.505,"type":"quantitative","scale":{"domain":[0,2.17],"range":[369.3,435.5],"nice":false,"zero":false},"axis":null},
 "y":{"field":"q3","type":"quantitative","scale":{"domain":[0.656,1.131],"range":[370.5,305],"nice":false,"zero":false},"axis":null},"y2":{"field":"max"}}},
{"data":{"name":"boxDi"},"mark":{"type":"rule","color":"black","strokeWidth":1,"strokeDash":[2.5,1.5]},
 "encoding":{"x":{"datum":0.505,"type":"quantitative","scale":{"domain":[0,2.17],"range":[369.3,435.5],"nice":false,"zero":false},"axis":null},
 "y":{"field":"min","type":"quantitative","scale":{"domain":[0.656,1.131],"range":[370.5,305],"nice":false,"zero":false},"axis":null},"y2":{"field":"q1"}}},
{"data":{"name":"boxDi"},"mark":{"type":"rule","color":"black","strokeWidth":1},
 "encoding":{"x":{"datum":0.36,"type":"quantitative","scale":{"domain":[0,2.17],"range":[369.3,435.5],"nice":false,"zero":false},"axis":null},"x2":{"datum":0.65},
 "y":{"field":"max","type":"quantitative","scale":{"domain":[0.656,1.131],"range":[370.5,305],"nice":false,"zero":false},"axis":null}}},
{"data":{"name":"boxDi"},"mark":{"type":"rule","color":"black","strokeWidth":1},
 "encoding":{"x":{"datum":0.36,"type":"quantitative","scale":{"domain":[0,2.17],"range":[369.3,435.5],"nice":false,"zero":false},"axis":null},"x2":{"datum":0.65},
 "y":{"field":"min","type":"quantitative","scale":{"domain":[0.656,1.131],"range":[370.5,305],"nice":false,"zero":false},"axis":null}}},
{"data":{"name":"boxDi"},"mark":{"type":"rect","fill":"white","stroke":"black","strokeWidth":0.8},
 "encoding":{"x":{"datum":0.17,"type":"quantitative","scale":{"domain":[0,2.17],"range":[369.3,435.5],"nice":false,"zero":false},"axis":null},"x2":{"datum":0.84},
 "y":{"field":"q1","type":"quantitative","scale":{"domain":[0.656,1.131],"range":[370.5,305],"nice":false,"zero":false},"axis":null},"y2":{"field":"q3"}}},
{"data":{"name":"boxDi"},"mark":{"type":"rule","color":"black","strokeWidth":1.5},
 "encoding":{"x":{"datum":0.25,"type":"quantitative","scale":{"domain":[0,2.17],"range":[369.3,435.5],"nice":false,"zero":false},"axis":null},"x2":{"datum":0.76},
 "y":{"field":"med","type":"quantitative","scale":{"domain":[0.656,1.131],"range":[370.5,305],"nice":false,"zero":false},"axis":null}}},
{"data":{"values":[{}]},"mark":{"type":"rule","color":"black","strokeWidth":1},
 "encoding":{"x":{"datum":0.57,"type":"quantitative","scale":{"domain":[0,2.17],"range":[369.3,435.5],"nice":false,"zero":false},"axis":null},"x2":{"datum":1.5},
 "y":{"datum":1.084,"type":"quantitative","scale":{"domain":[0.656,1.131],"range":[370.5,305],"nice":false,"zero":false},"axis":null}}},
{"data":{"values":[{}]},"mark":{"type":"rule","color":"black","strokeWidth":1.8},
 "encoding":{"x":{"datum":1.17,"type":"quantitative","scale":{"domain":[0,2.17],"range":[369.3,435.5],"nice":false,"zero":false},"axis":null},"x2":{"datum":1.88},
 "y":{"datum":1.0,"type":"quantitative","scale":{"domain":[0.656,1.131],"range":[370.5,305],"nice":false,"zero":false},"axis":null}}},
{"data":{"values":[{"t":"***","x":0.9,"y":1.1,"f":7.5},{"t":"180","x":0.5,"y":0.793,"f":6},{"t":"180","x":1.6,"y":0.793,"f":6},{"t":"Observed","x":0.515,"y":0.713,"f":6},{"t":"Predicted","x":1.56,"y":0.713,"f":6}]},
 "mark":{"type":"text","align":"center","baseline":"middle","fontWeight":"bold"},
 "encoding":{"x":{"field":"x","type":"quantitative","scale":{"domain":[0,2.17],"range":[369.3,435.5],"nice":false,"zero":false},"axis":null},
 "y":{"field":"y","type":"quantitative","scale":{"domain":[0.656,1.131],"range":[370.5,305],"nice":false,"zero":false},"axis":null},"text":{"field":"t"},"size":{"field":"f","type":"quantitative","scale":null}}},
{"data":{"values":[{"t":"D","x":0.781,"y":1.088,"w":"bold"},{"t":"NSE = −1.763 [−2.391, −1.160]","x":0.813,"y":1.088,"w":"normal"}]},
 "mark":{"type":"text","fontSize":10,"baseline":"middle","align":"left"},
 "encoding":{"x":{"field":"x","type":"quantitative","scale":{"domain":[0.7646,1.1187],"range":[268.3,435.5],"nice":false,"zero":false},"axis":null},
 "y":{"field":"y","type":"quantitative","scale":{"domain":[0.7666,1.11],"range":[370.5,234.3],"nice":false,"zero":false},"axis":null},"text":{"field":"t"},"fontWeight":{"field":"w","type":"nominal","scale":null}}},
{"data":{"values":[{"t":"1:1 line of perfect","x":0.867,"y":0.8856},{"t":"agreement","x":0.8777,"y":0.8654}]},
 "mark":{"type":"text","fontSize":11,"angle":322,"align":"center","baseline":"middle"},
 "encoding":{"x":{"field":"x","type":"quantitative","scale":{"domain":[0.7646,1.1187],"range":[268.3,435.5],"nice":false,"zero":false},"axis":null},
 "y":{"field":"y","type":"quantitative","scale":{"domain":[0.7666,1.11],"range":[370.5,234.3],"nice":false,"zero":false},"axis":null},"text":{"field":"t"}}},
{"data":{"values":[{}]},"mark":{"type":"rect","filled":false,"color":"black","strokeWidth":1.2},
 "encoding":{"x":{"datum":0.7646,"type":"quantitative","scale":{"domain":[0.7646,1.1187],"range":[268.3,435.5],"nice":false,"zero":false},"axis":null},"x2":{"datum":1.1187},
 "y":{"datum":0.7666,"type":"quantitative","scale":{"domain":[0.7666,1.11],"range":[370.5,234.3],"nice":false,"zero":false},"axis":null},"y2":{"datum":1.11}}}
],
"resolve":{"scale":{"x":"independent","y":"independent","fill":"independent","shape":"independent","stroke":"independent","size":"independent","fontWeight":"independent","fontStyle":"independent"},"axis":{"x":"independent","y":"independent"}}
}
